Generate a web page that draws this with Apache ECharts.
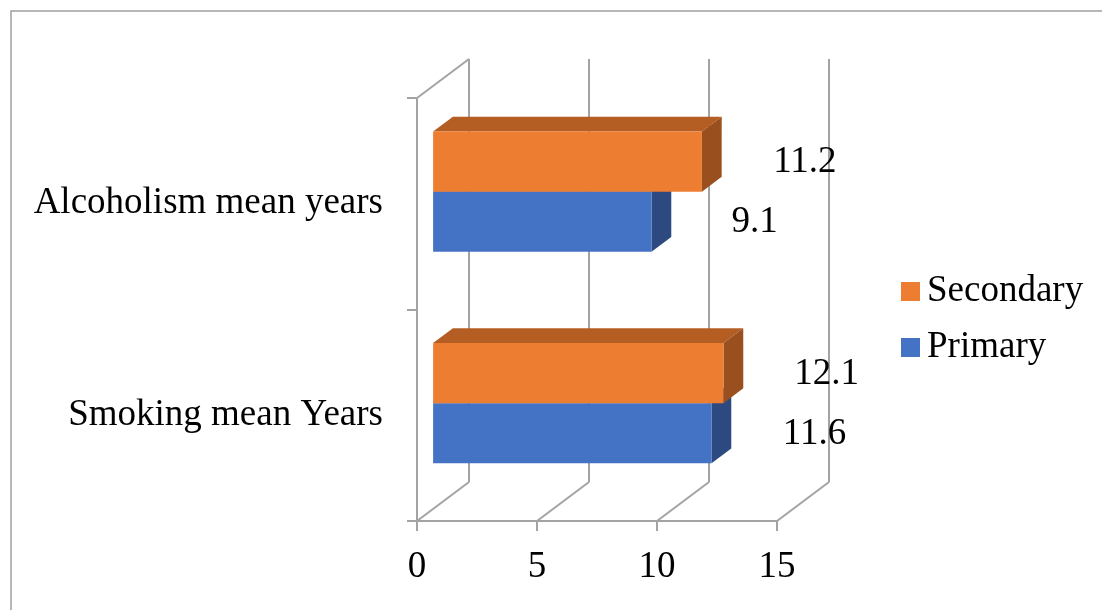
<!DOCTYPE html>
<html>
<head>
<meta charset="utf-8">
<title>Mean years by category</title>
<script src="https://cdn.jsdelivr.net/npm/echarts@6/dist/echarts.min.js"></script>
<style>
  html, body { margin: 0; padding: 0; background: #ffffff; }
  #chart { width: 1102px; height: 610px; }
</style>
</head>
<body>
<div id="chart"></div>
<script>
// Categories, bottom to top
var categories = ['Smoking mean Years', 'Alcoholism mean years'];
// Series values, same order as categories
var primary = [11.6, 9.1];
var secondary = [12.1, 11.2];
// Value axis ticks
var xTicks = [0, 5, 10, 15];

// 3D projection of the chart box: depth vector in pixels
var DEPTH_X = 52, DEPTH_Y = -39;
// Bars occupy this slice of the depth
var BAR_D0 = 0.31, BAR_D1 = 0.69;

var FONT = '"Liberation Serif", "Times New Roman", serif';
var FONT_SIZE = 37;
var GRID_COLOR = '#a3a3a3';

var chart = echarts.init(document.getElementById('chart'));

// Walls and floor of the 3D box
function renderWalls(params, api) {
  var children = [];
  var lineStyle = { stroke: GRID_COLOR, lineWidth: 2 };
  xTicks.forEach(function (t) {
    var pBottom = api.coord([t, 0]);
    var base = [pBottom[0], params.coordSys.y + params.coordSys.height];
    // floor diagonal
    children.push({ type: 'line', shape: { x1: base[0], y1: base[1], x2: base[0] + DEPTH_X, y2: base[1] + DEPTH_Y }, style: lineStyle });
    // back wall gridline
    children.push({ type: 'line', shape: { x1: base[0] + DEPTH_X, y1: base[1] + DEPTH_Y, x2: base[0] + DEPTH_X, y2: params.coordSys.y + DEPTH_Y }, style: lineStyle });
  });
  // left wall top edge
  var x0 = params.coordSys.x, y0 = params.coordSys.y;
  children.push({ type: 'line', shape: { x1: x0, y1: y0, x2: x0 + DEPTH_X, y2: y0 + DEPTH_Y }, style: lineStyle });
  return { type: 'group', children: children };
}

// A 3D bar: front face, top face, right side face and a value label
function makeBarRenderer(upper, colors) {
  return function (params, api) {
    var cat = api.value(0);
    var val = api.value(1);
    var start = api.coord([0, cat]);
    var end = api.coord([val, cat]);
    var band = api.size([0, 1])[1];
    var h = band * 0.284;
    var ox = DEPTH_X * BAR_D0, oy = DEPTH_Y * BAR_D0;
    var dx = DEPTH_X * (BAR_D1 - BAR_D0), dy = DEPTH_Y * (BAR_D1 - BAR_D0);
    var xL = start[0] + ox, xR = end[0] + ox;
    var yT = (upper ? start[1] - h : start[1]) + oy;
    var yB = yT + h;
    return {
      type: 'group',
      children: [
        { type: 'polygon', shape: { points: [[xL, yT], [xL + dx, yT + dy], [xR + dx, yT + dy], [xR, yT]] }, style: { fill: colors.top } },
        { type: 'polygon', shape: { points: [[xR, yT], [xR + dx, yT + dy], [xR + dx, yB + dy], [xR, yB]] }, style: { fill: colors.side } },
        { type: 'rect', shape: { x: xL, y: yT, width: xR - xL, height: h }, style: { fill: colors.front } },
        { type: 'text', x: xR + 103, y: (yT + yB) / 2 + 1, style: { text: String(val), font: FONT_SIZE + 'px ' + FONT, fill: '#000000', align: 'center', verticalAlign: 'middle' } }
      ]
    };
  };
}

function seriesData(values) {
  return values.map(function (v, i) { return [i, v]; });
}

var option = {
  backgroundColor: '#ffffff',
  animation: false,
  graphic: [{
    type: 'rect', shape: { x: 11, y: 11, width: 1200, height: 700 },
    style: { fill: 'none', stroke: '#a0a0a0', lineWidth: 1.5 }, z: -1
  }],
  legend: {
    orient: 'vertical',
    left: 896,
    top: 268,
    itemWidth: 19,
    itemHeight: 19,
    itemGap: 19,
    icon: 'rect',
    data: ['Secondary', 'Primary'],
    textStyle: { fontFamily: FONT, fontSize: FONT_SIZE, color: '#000000', padding: [0, 0, 0, 2] }
  },
  grid: { left: 417, top: 98, width: 360, height: 423, containLabel: false },
  xAxis: {
    type: 'value', min: 0, max: 15, interval: 5,
    axisLine: { show: true, lineStyle: { color: GRID_COLOR, width: 2 } },
    axisTick: { show: true, length: 10, lineStyle: { color: GRID_COLOR, width: 2 } },
    axisLabel: { fontFamily: FONT, fontSize: FONT_SIZE, color: '#000000', margin: 28 },
    splitLine: { show: false }
  },
  yAxis: {
    type: 'category', data: categories,
    axisLine: { show: true, lineStyle: { color: GRID_COLOR, width: 2 } },
    axisTick: { show: true, length: 10, lineStyle: { color: GRID_COLOR, width: 2 } },
    axisLabel: { fontFamily: FONT, fontSize: FONT_SIZE, color: '#000000', margin: 34, padding: [6, 0, 0, 0] },
    splitLine: { show: false }
  },
  series: [
    {
      type: 'custom', name: 'walls', z: 1, silent: true,
      renderItem: renderWalls, data: [[0, 0]],
      encode: { x: 1, y: 0 }
    },
    {
      type: 'custom', name: 'Primary', z: 2,
      itemStyle: { color: '#4472C4' },
      renderItem: makeBarRenderer(false, { front: '#4472C4', top: '#3A62A8', side: '#2C4A80' }),
      data: seriesData(primary),
      encode: { x: 1, y: 0 }
    },
    {
      type: 'custom', name: 'Secondary', z: 3,
      itemStyle: { color: '#ED7D31' },
      renderItem: makeBarRenderer(true, { front: '#ED7D31', top: '#B55E24', side: '#9A4F1E' }),
      data: seriesData(secondary),
      encode: { x: 1, y: 0 }
    }
  ]
};

chart.setOption(option);
</script>
</body>
</html>
